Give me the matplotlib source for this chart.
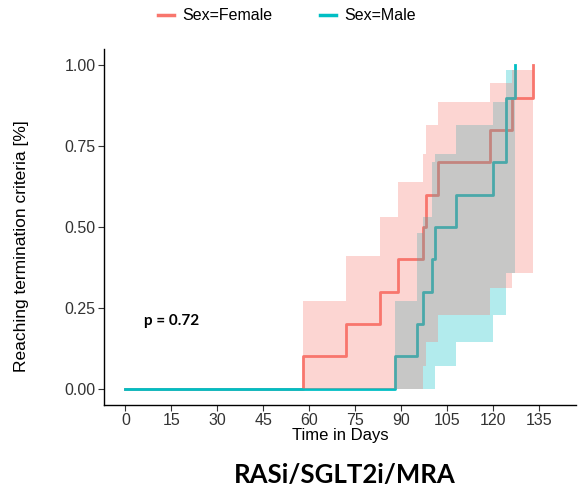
import matplotlib
matplotlib.use("Agg")
import matplotlib.pyplot as plt
from matplotlib.lines import Line2D

plt.rcParams['font.family'] = ['Liberation Sans', 'DejaVu Sans']

cor_fem  = "#F8766D"
cor_masc = "#00BFC4"
cor_txt  = "#333333"

# curvas de evento acumulado (step 'post')
dias_fem  = [0, 58, 72, 83, 89, 97, 98, 102, 119, 126, 133]
prob_fem  = [0.0, 0.1, 0.2, 0.3, 0.4, 0.5, 0.6, 0.7, 0.8, 0.9, 1.0]
dias_masc = [0, 88, 95, 97, 100, 101, 108, 120, 124, 127]
prob_masc = [0.0, 0.1, 0.2, 0.3, 0.4, 0.5, 0.6, 0.7, 0.9, 1.0]

# intervalos de confiança
ic_dias_fem = [58, 72, 83, 89, 97, 98, 102, 119, 126, 133]
ic_inf_fem  = [0.0, 0.0, 0.0, 0.0, 0.07, 0.146, 0.228, 0.31, 0.357, 0.357]
ic_sup_fem  = [0.27, 0.41, 0.53, 0.64, 0.727, 0.815, 0.887, 0.944, 0.985, 0.985]

ic_dias_masc = [88, 95, 97, 100, 101, 108, 120, 124, 127]
ic_inf_masc  = [0.0, 0.0, 0.0, 0.0, 0.07, 0.146, 0.228, 0.357, 0.357]
ic_sup_masc  = [0.27, 0.48, 0.53, 0.70, 0.727, 0.815, 0.887, 0.985, 0.985]

x_ticks = list(range(0, 136, 15))
y_ticks = [0.0, 0.25, 0.5, 0.75, 1.0]
legenda = ["Sex=Female", "Sex=Male"]
p_valor = "p = 0.72"
titulo  = "RASi/SGLT2i/MRA"

fig = plt.figure(figsize=(5.82, 4.91), dpi=100)
ax = fig.add_axes([104 / 582, 1 - 405 / 491, 472 / 582, 356 / 491])

# linhas primeiro, faixas por cima (como no ggsurvplot)
ax.step(dias_fem, prob_fem, where='post', color=cor_fem, lw=2, zorder=1)
ax.step(dias_masc, prob_masc, where='post', color=cor_masc, lw=2, zorder=1)

ax.fill_between(ic_dias_masc, ic_inf_masc, ic_sup_masc, step='post',
                color=cor_masc, alpha=0.3, linewidth=0, zorder=2)
ax.fill_between(ic_dias_fem, ic_inf_fem, ic_sup_fem, step='post',
                color=cor_fem, alpha=0.3, linewidth=0, zorder=3)

ax.text(15, 0.21, p_valor, family='Lato', fontweight='bold', fontsize=11,
        ha='center', va='center', color='black')

ax.set_xlim(-7, 147)
ax.set_ylim(-0.05, 1.05)
ax.set_xticks(x_ticks)
ax.set_yticks(y_ticks)
ax.set_yticklabels([f"{v:.2f}" for v in y_ticks])
ax.tick_params(labelsize=11.5, labelcolor=cor_txt, length=4, width=0.8,
               color=cor_txt, pad=2)
for lado in ['top', 'right']:
    ax.spines[lado].set_visible(False)
for lado in ['left', 'bottom']:
    ax.spines[lado].set_linewidth(1.0)

ax.set_xlabel("Time in Days", fontsize=12, color='black', labelpad=0)
fig.text(22 / 582, 1 - 246 / 491, "Reaching termination criteria [%]",
         rotation=90, ha='center', va='center', fontsize=12.5)

handles = [Line2D([], [], color=cor_fem, lw=2.5),
           Line2D([], [], color=cor_masc, lw=2.5)]
fig.legend(handles, legenda, loc='center', bbox_to_anchor=(287 / 582, 1 - 16 / 491),
           ncol=2, frameon=False, fontsize=11.5, handlelength=1.0,
           handletextpad=0.5, columnspacing=3.0)

fig.text(345 / 582, 1 - 475 / 491, titulo, family='Lato', fontweight='bold',
         fontsize=18.5, ha='center', va='center')

plt.savefig("out.png", dpi=100)
plt.close()
